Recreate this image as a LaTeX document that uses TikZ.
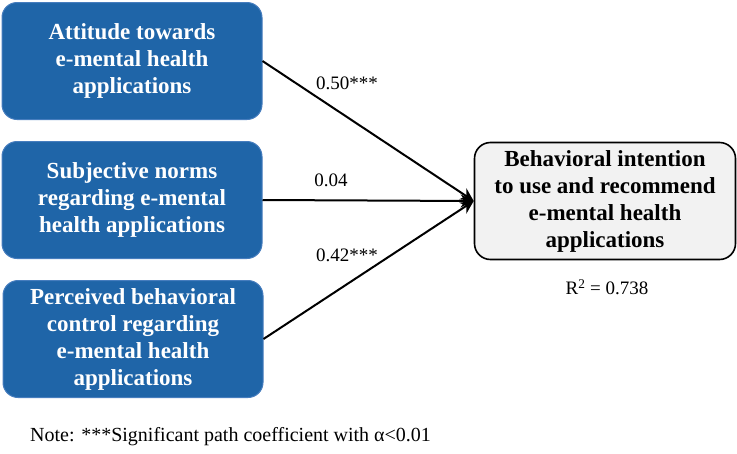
\documentclass[tikz,border=0pt]{standalone}
\usepackage{fontspec}
\setmainfont{Liberation Serif}
\usetikzlibrary{arrows.meta}
\definecolor{boxblue}{RGB}{31,101,168}
\definecolor{boxedge}{RGB}{70,125,190}
\definecolor{boxgray}{RGB}{242,242,242}
\tikzset{
  factor/.style={draw=boxedge,line width=1pt,fill=boxblue,rounded corners=15pt,
    minimum width=260pt,minimum height=117pt,align=center,text=white,
    font=\fontsize{23}{27}\selectfont\bfseries,inner sep=0pt},
  outcome/.style={draw=black,line width=1.6pt,fill=boxgray,rounded corners=16pt,
    minimum width=261pt,minimum height=117pt,align=center,
    font=\fontsize{23}{27}\selectfont\bfseries,inner sep=0pt},
  path/.style={line width=2pt,-{Stealth[length=13pt,width=13pt]}},
  coef/.style={font=\fontsize{19}{22}\selectfont}
}

\begin{document}
\begin{tikzpicture}[x=1pt,y=-1pt]
\useasboundingbox (0,0) rectangle (737,453);

% predictors
\node[factor] (att) at (132,61) {Attitude towards\\e-mental health\\applications};
\node[factor] (sub) at (132,200) {Subjective norms\\regarding e-mental\\health applications};
\node[factor] (pbc) at (133,339) {Perceived behavioral\\control regarding\\e-mental health\\applications};

% outcome
\node[outcome] (beh) at (605,201) {Behavioral intention\\to use and recommend\\e-mental health\\applications};
\node[coef] (rsq) at (607,287) {R\textsuperscript{2} = 0.738};

% paths
\draw[path] (att.east) -- (beh.west);
\draw[path] (sub.east) -- (beh.west);
\draw[path] (pbc.east) -- (beh.west);
\node[coef] (c1) at (347,83) {0.50***};
\node[coef] (c2) at (331,180) {0.04};
\node[coef] (c3) at (347,255) {0.42***};

\node[anchor=west,inner sep=0pt,font=\fontsize{20}{23}\selectfont] (note) at (30,437) {Note: ***Significant path coefficient with α<0.01};
\end{tikzpicture}
\end{document}
